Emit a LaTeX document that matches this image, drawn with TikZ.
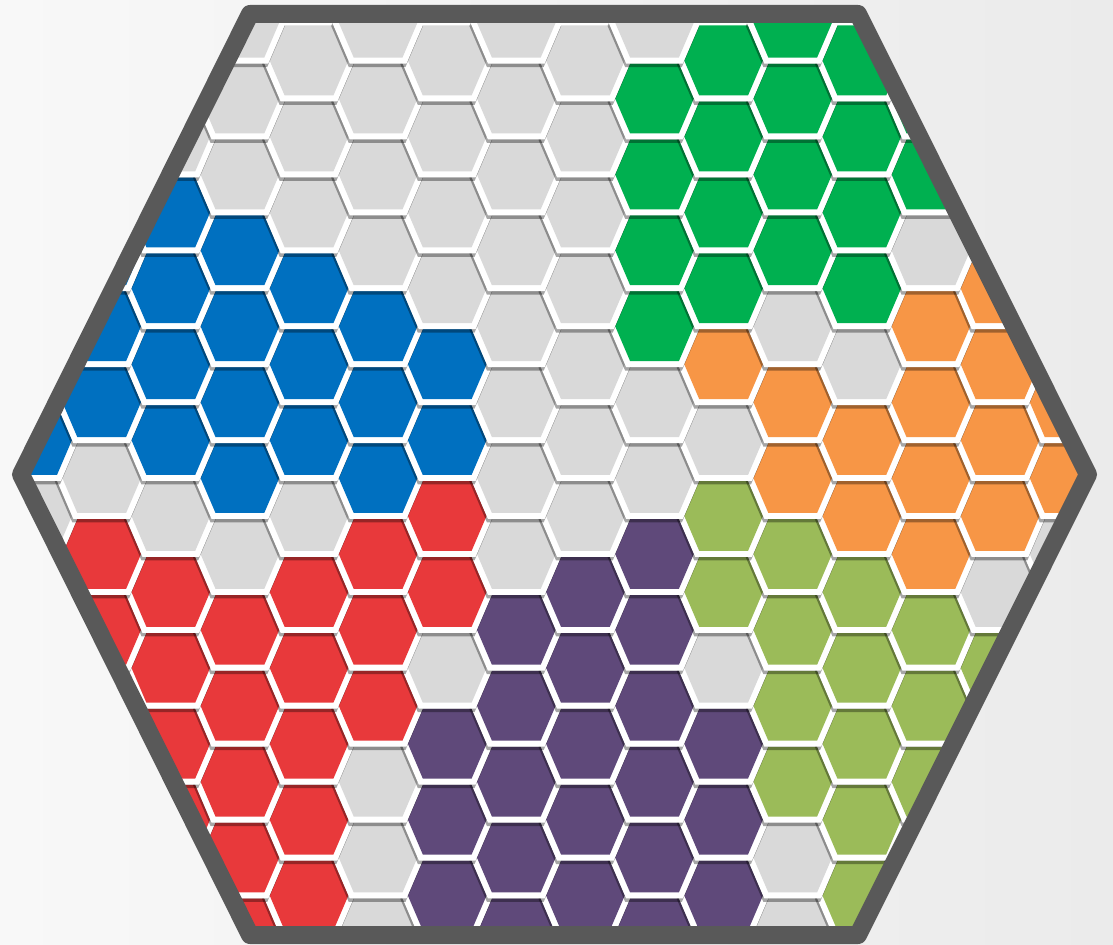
\documentclass[tikz,border=0pt]{standalone}
\usepackage{tikz}
\usetikzlibrary{calc}

\definecolor{hgray}{HTML}{D9D9D9}
\definecolor{hblue}{HTML}{0070C0}
\definecolor{hgreen}{HTML}{00B050}
\definecolor{horange}{HTML}{F79646}
\definecolor{hlime}{HTML}{9BBB59}
\definecolor{hpurple}{HTML}{5F497A}
\definecolor{hred}{HTML}{E8393B}
\definecolor{hborder}{HTML}{595959}
\definecolor{bgleft}{HTML}{F8F8F8}
\definecolor{bgright}{HTML}{EBEBEB}

\tikzset{
    hexshadow/.style={fill=black, opacity=0.35},
    hexgap/.style={fill=white},
    frame/.style={draw=hborder, line width=9pt, line join=round},
}

% outer white cell (cell + gap) and inner coloured cell
\newcommand{\hexouter}{(-45.9,0) -- (-28.35,41) -- (28.35,41) -- (45.9,0) -- (28.35,-41) -- (-28.35,-41) -- cycle}
\newcommand{\hexinner}{(-39.4,0) -- (-24.4,35) -- (24.4,35) -- (39.4,0) -- (24.4,-35) -- (-24.4,-35) -- cycle}

\begin{document}
\begin{tikzpicture}[x=0.5pt, y=-0.5pt]

    % ── Background ─────────────────────────────────────────────────
    \shade[left color=bgleft, right color=bgright] (0,0) rectangle (1113,945);
    \useasboundingbox (0,0) rectangle (1113,945);

    % ── Board outline ──────────────────────────────────────────────
    \coordinate (tl) at (250,14);
    \coordinate (tr) at (858,14);
    \coordinate (rt) at (1088,474.5);
    \coordinate (br) at (858,935);
    \coordinate (bl) at (250,935);
    \coordinate (lt) at (21,474.5);

    \fill[white] (tl) -- (tr) -- (rt) -- (br) -- (bl) -- (lt) -- cycle;

    % ── Cells: column / half-row / colour, bottom rows first ───────
    \begin{scope}
        \clip (tl) -- (tr) -- (rt) -- (br) -- (bl) -- (lt) -- cycle;
        \foreach \k/\r/\c in {
            -1/24/hred, 1/24/hgray, 3/24/hpurple, 5/24/hpurple, 7/24/hgray,
            0/23/hred, 2/23/hpurple, 4/23/hpurple, 6/23/hpurple, 8/23/hlime,
            -1/22/hred, 1/22/hgray, 3/22/hpurple, 5/22/hpurple, 7/22/hgray, 9/22/hlime,
            -2/21/hred, 0/21/hred, 2/21/hpurple, 4/21/hpurple, 6/21/hpurple, 8/21/hlime,
            -1/20/hred, 1/20/hgray, 3/20/hpurple, 5/20/hpurple, 7/20/hlime, 9/20/hlime,
            -2/19/hred, 0/19/hred, 2/19/hpurple, 4/19/hpurple, 6/19/hpurple, 8/19/hlime,
            -3/18/hred, -1/18/hred, 1/18/hred, 3/18/hpurple, 5/18/hpurple, 7/18/hlime, 9/18/hlime,
            -2/17/hred, 0/17/hred, 2/17/hgray, 4/17/hpurple, 6/17/hgray, 8/17/hlime, 10/17/hlime,
            -3/16/hred, -1/16/hred, 1/16/hred, 3/16/hpurple, 5/16/hpurple, 7/16/hlime, 9/16/hlime,
            -2/15/hred, 0/15/hred, 2/15/hred, 4/15/hpurple, 6/15/hlime, 8/15/hlime, 10/15/hgray,
            -3/14/hred, -1/14/hgray, 1/14/hred, 3/14/hgray, 5/14/hpurple, 7/14/hlime, 9/14/horange, 11/14/hgray,
            -4/13/hgray, -2/13/hgray, 0/13/hgray, 2/13/hred, 4/13/hgray, 6/13/hlime, 8/13/horange, 10/13/horange,
            -3/12/hgray, -1/12/hblue, 1/12/hblue, 3/12/hgray, 5/12/hgray, 7/12/horange, 9/12/horange, 11/12/horange,
            -4/11/hblue, -2/11/hblue, 0/11/hblue, 2/11/hblue, 4/11/hgray, 6/11/hgray, 8/11/horange, 10/11/horange,
            -3/10/hblue, -1/10/hblue, 1/10/hblue, 3/10/hgray, 5/10/hgray, 7/10/horange, 9/10/horange, 11/10/horange,
            -2/9/hblue, 0/9/hblue, 2/9/hblue, 4/9/hgray, 6/9/horange, 8/9/hgray, 10/9/horange,
            -3/8/hblue, -1/8/hblue, 1/8/hblue, 3/8/hgray, 5/8/hgreen, 7/8/hgray, 9/8/horange,
            -2/7/hblue, 0/7/hblue, 2/7/hgray, 4/7/hgray, 6/7/hgreen, 8/7/hgreen, 10/7/horange,
            -3/6/hblue, -1/6/hblue, 1/6/hgray, 3/6/hgray, 5/6/hgreen, 7/6/hgreen, 9/6/hgray,
            -2/5/hblue, 0/5/hgray, 2/5/hgray, 4/5/hgray, 6/5/hgreen, 8/5/hgreen,
            -1/4/hgray, 1/4/hgray, 3/4/hgray, 5/4/hgreen, 7/4/hgreen, 9/4/hgreen,
            -2/3/hgray, 0/3/hgray, 2/3/hgray, 4/3/hgray, 6/3/hgreen, 8/3/hgreen,
            -1/2/hgray, 1/2/hgray, 3/2/hgray, 5/2/hgreen, 7/2/hgreen, 9/2/hgreen,
            0/1/hgray, 2/1/hgray, 4/1/hgray, 6/1/hgreen, 8/1/hgreen,
            -1/0/hgray, 1/0/hgray, 3/0/hgray, 5/0/hgray, 7/0/hgreen} {
            \pgfmathsetmacro\hx{309+69.1*(\k)}
            \pgfmathsetmacro\hy{22.55+37.95*(\r)}
            \begin{scope}[shift={(\hx,\hy)}]
                \fill[hexshadow, shift={(-1,3.5)}] \hexouter;
                \fill[hexgap] \hexouter;
                \fill[\c] \hexinner;
            \end{scope}
        }
    \end{scope}

    % ── Frame ──────────────────────────────────────────────────────
    \draw[frame] (tl) -- (tr) -- (rt) -- (br) -- (bl) -- (lt) -- cycle;

\end{tikzpicture}
\end{document}
